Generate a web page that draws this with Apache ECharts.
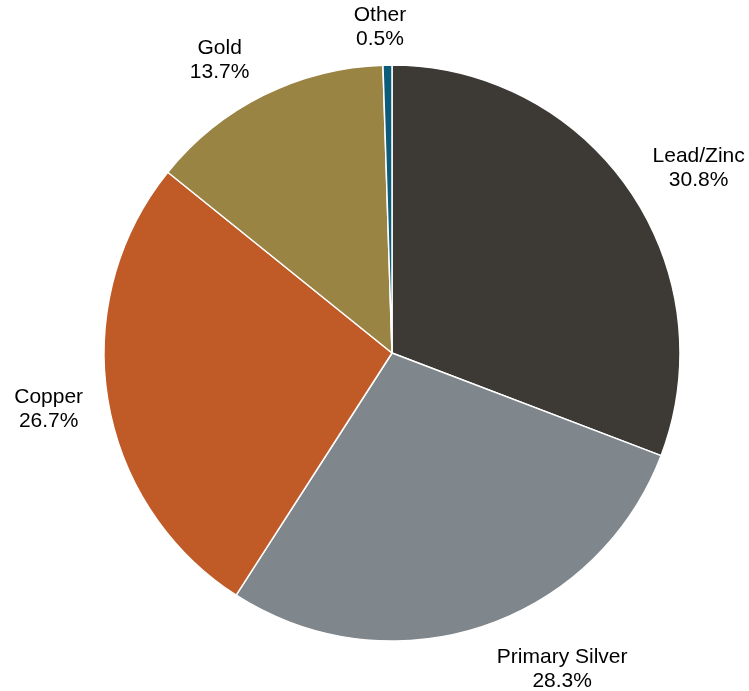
<!DOCTYPE html>
<html>
<head>
<meta charset="utf-8">
<script src="https://cdn.jsdelivr.net/npm/echarts@6/dist/echarts.min.js"></script>
<style>html,body{margin:0;padding:0;background:#fff}#c{width:749px;height:691px}</style>
</head>
<body>
<div id="c"></div>
<script>
const categories = ['Lead/Zinc', 'Primary Silver', 'Copper', 'Gold', 'Other'];
const values = [30.8, 28.3, 26.7, 13.7, 0.5];
const colors = ['#3d3a35', '#7f868c', '#c05a27', '#9a8443', '#0b5b7a'];

// small label nudges (layout only)
const labelNudge = [[-8, -3], [0, 12], [12, 5], [5, -6], [-1, -6]];

const chart = echarts.init(document.getElementById('c'), null, {renderer: 'canvas'});
chart.setOption({
  animation: false,
  backgroundColor: '#ffffff',
  series: [{
    type: 'pie',
    center: [392, 353],
    radius: [0, 288],
    startAngle: 90,
    clockwise: true,
    avoidLabelOverlap: false,
    itemStyle: {borderColor: '#ffffff', borderWidth: 1.5},
    label: {
      show: true,
      position: 'outside',
      formatter: p => p.name + '\n' + p.value.toFixed(1) + '%',
      fontFamily: 'Liberation Sans, Arial, sans-serif',
      fontSize: 21,
      lineHeight: 24,
      color: '#000000',
      align: 'center'
    },
    labelLine: {show: false, length: 32, length2: 0},
    labelLayout: function (params) {
      const r = params.labelRect;
      const n = labelNudge[params.dataIndex];
      let cx = r.x + r.width / 2;
      if (params.dataIndex === 4) {
        const pts = params.labelLinePoints;
        cx = pts[pts.length - 1][0] - 6;
      }
      return {x: cx + n[0], y: r.y + r.height / 2 + n[1], align: 'center', verticalAlign: 'middle'};
    },
    data: categories.map((n, i) => ({name: n, value: values[i], itemStyle: {color: colors[i]}}))
  }]
});
</script>
</body>
</html>
